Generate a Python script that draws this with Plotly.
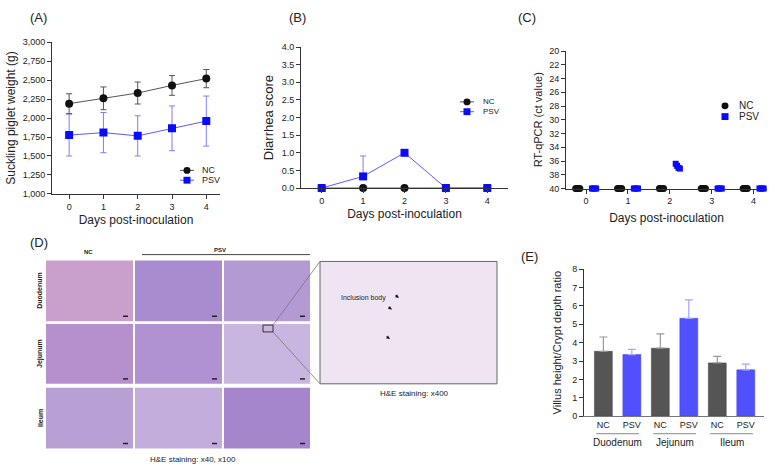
import plotly.graph_objects as go

W, H = 776, 472
FONT = "Liberation Sans, Arial, sans-serif"

days = [0, 1, 2, 3, 4]

# (A) suckling piglet weight, mean and SD (g)
weight_nc = [2190, 2260, 2330, 2430, 2520]
weight_nc_sd = [130, 150, 145, 130, 120]
weight_psv = [1775, 1808, 1765, 1865, 1960]
weight_psv_sd = [275, 265, 265, 295, 330]

# (B) diarrhea score
score_nc = [0, 0, 0, 0, 0]
score_psv = [0, 0.33, 1.0, 0, 0]
score_psv_sd = [0, 0.58, 0, 0, 0]

# (C) RT-qPCR ct value, one value per piglet
ct_day = [0, 0, 0, 0, 1, 1, 1, 1, 2, 2, 2, 2, 3, 3, 3, 3, 4, 4, 4, 4]
ct_nc = [40, 40, 40, 40, 40, 40, 40, 40, 40, 40, 40, 40, 40, 40, 40, 40, 40, 40, 40, 40]
ct_psv = [40, 40, 40, 40, 40, 40, 40, 40, 36.4, 36.7, 37.0, 37.1, 40, 40, 40, 40, 40, 40, 40, 40]

# (E) villus height / crypt depth ratio
villus_labels = ["NC", "PSV", "NC", "PSV", "NC", "PSV"]
villus_segments = ["Duodenum", "Jejunum", "Ileum"]
villus_ratio = [3.53, 3.35, 3.70, 5.33, 2.90, 2.52]
villus_sd = [0.78, 0.29, 0.78, 1.00, 0.35, 0.31]

# (D) histology panel labels
he_rows = ["Duodenum", "Jejunum", "Ileum"]
groups = ["NC", "PSV"]

BLACK = "#111111"
GREY = "#555555"
BLUE = "#0a0aff"
BLUE_LINE = "#5a5aff"
BLUE_BAR = "#5050ff"


def px(x):
    return x / W


def py(y):
    return 1 - y / H


def axis(domain, anchor, **kw):
    base = dict(domain=domain, anchor=anchor, showline=True, linecolor="#333", linewidth=1,
                ticks="outside", ticklen=4, tickcolor="#333", showgrid=False,
                zeroline=False, tickfont=dict(size=9, color="#222"))
    base.update(kw)
    return base


fig = go.Figure()

# ---- (A)
fig.add_trace(go.Scatter(
    x=days, y=weight_nc, name="NC", mode="lines+markers", xaxis="x", yaxis="y",
    line=dict(color=GREY, width=1), marker=dict(symbol="circle", size=8, color=BLACK),
    error_y=dict(type="data", array=weight_nc_sd, color=GREY, thickness=1, width=3)))
fig.add_trace(go.Scatter(
    x=days, y=weight_psv, name="PSV", mode="lines+markers", xaxis="x", yaxis="y",
    line=dict(color=BLUE_LINE, width=1), marker=dict(symbol="square", size=8, color=BLUE),
    error_y=dict(type="data", array=weight_psv_sd, color="#7d7dff", thickness=1, width=3)))

# ---- (B)
fig.add_trace(go.Scatter(
    x=days, y=score_nc, name="NC", mode="lines+markers", xaxis="x2", yaxis="y2",
    line=dict(color=GREY, width=1), marker=dict(symbol="circle", size=8, color=BLACK),
    cliponaxis=False))
fig.add_trace(go.Scatter(
    x=days, y=score_psv, name="PSV", mode="lines+markers", xaxis="x2", yaxis="y2",
    line=dict(color=BLUE_LINE, width=1), marker=dict(symbol="square", size=8, color=BLUE),
    error_y=dict(type="data", array=score_psv_sd, arrayminus=[0] * len(days),
                 symmetric=False, color="#7d7dff", thickness=1, width=3),
    cliponaxis=False))

# ---- (C)
jitter = [-0.05, -0.017, 0.017, 0.05]
nc_x = [d - 0.2 + jitter[i % 4] for i, d in enumerate(ct_day)]
psv_x = [d + 0.19 + jitter[i % 4] for i, d in enumerate(ct_day)]
fig.add_trace(go.Scatter(
    x=nc_x, y=ct_nc, name="NC", mode="markers", xaxis="x3", yaxis="y3",
    marker=dict(symbol="circle", size=7, color=BLACK), cliponaxis=False))
fig.add_trace(go.Scatter(
    x=psv_x, y=ct_psv, name="PSV", mode="markers", xaxis="x3", yaxis="y3",
    marker=dict(symbol="square", size=6, color=BLUE), cliponaxis=False))

# ---- (E)
idx = list(range(len(villus_labels)))
nc_idx = [i for i in idx if villus_labels[i] == "NC"]
psv_idx = [i for i in idx if villus_labels[i] == "PSV"]
fig.add_trace(go.Bar(
    x=nc_idx, y=[villus_ratio[i] for i in nc_idx], xaxis="x4", yaxis="y4", name="NC",
    width=0.63, marker=dict(color=GREY, line=dict(color="#444", width=0.5)),
    error_y=dict(type="data", array=[villus_sd[i] for i in nc_idx], arrayminus=[0] * len(nc_idx),
                 symmetric=False, color="#999", thickness=1.2, width=4)))
fig.add_trace(go.Bar(
    x=psv_idx, y=[villus_ratio[i] for i in psv_idx], xaxis="x4", yaxis="y4", name="PSV",
    width=0.63, marker=dict(color=BLUE_BAR, line=dict(color="#3a3aff", width=0.5)),
    error_y=dict(type="data", array=[villus_sd[i] for i in psv_idx], arrayminus=[0] * len(psv_idx),
                 symmetric=False, color="#a5a5ff", thickness=1.2, width=4)))

title_font = dict(size=12, color="#222")
fig.update_layout(
    width=W, height=H, margin=dict(l=0, r=0, t=0, b=0),
    paper_bgcolor="white", plot_bgcolor="white",
    font=dict(family=FONT, color="#222"),
    barmode="overlay", showlegend=False,
    xaxis=axis([px(52), px(220)], "y", range=[-0.5, 4.4], tickvals=days,
               title=dict(text="Days post-inoculation", font=title_font, standoff=4)),
    yaxis=axis([py(193), py(38)], "x", range=[1000, 3000], dtick=250, tickformat=",",
               title=dict(text="Suckling piglet weight (g)", font=title_font, standoff=4)),
    xaxis2=axis([px(301), px(508)], "y2", range=[-0.5, 4.5], tickvals=days,
                title=dict(text="Days post-inoculation", font=title_font, standoff=4)),
    yaxis2=axis([py(187), py(43)], "x2", range=[0, 4], dtick=0.5, tickformat=".1f",
                title=dict(text="Diarrhea score", font=dict(size=13, color="#222"), standoff=5)),
    xaxis3=axis([px(566), px(767)], "y3", range=[-0.48, 4.32], tickvals=days,
                title=dict(text="Days post-inoculation", font=title_font, standoff=8)),
    yaxis3=axis([py(187.5), py(47)], "x3", range=[40, 20], dtick=2,
                title=dict(text="RT-qPCR (ct value)", font=dict(size=11, color="#222"), standoff=4)),
    xaxis4=axis([px(584), px(764)], "y4", range=[-0.68, 5.64], tickvals=idx,
                ticktext=villus_labels, ticks="", linecolor="#777"),
    yaxis4=axis([py(420), py(270)], "x4", range=[0, 8], dtick=1,
                title=dict(text="Villus height/Crypt depth ratio",
                           font=dict(size=11, color="#222"), standoff=8)),
)

ann = []
shapes = []


def text(x, y, s, size=10, xanchor="center", **kw):
    ann.append(dict(x=px(x), y=py(y), xref="paper", yref="paper", text=s, showarrow=False,
                    xanchor=xanchor, yanchor="middle", font=dict(size=size, color="#222"), **kw))


def legend_entry(cx, cy, symbol, color, label, tx, size=9, line_color=None):
    # compact GraphPad-style key: short line, marker, label
    if line_color:
        shapes.append(dict(type="line", xref="paper", yref="paper", x0=px(cx - 7), x1=px(cx + 7),
                           y0=py(cy), y1=py(cy), line=dict(color=line_color, width=1)))
    r = 3.5
    shapes.append(dict(type="circle" if symbol == "circle" else "rect", xref="paper", yref="paper",
                       x0=px(cx - r), x1=px(cx + r), y0=py(cy + r), y1=py(cy - r),
                       fillcolor=color, line=dict(color=color, width=0)))
    text(tx, cy, label, size=size, xanchor="left")


legend_entry(187, 169, "circle", BLACK, groups[0], 200, line_color=GREY)
legend_entry(187, 179, "square", BLUE, groups[1], 200, line_color=BLUE_LINE)
legend_entry(467, 99, "circle", BLACK, groups[0], 481, size=8, line_color=GREY)
legend_entry(467, 109, "square", BLUE, groups[1], 481, size=8, line_color=BLUE_LINE)
legend_entry(725, 103, "circle", BLACK, groups[0], 737, size=10)
legend_entry(725, 114, "square", BLUE, groups[1], 737, size=10)

for lab, (x, y) in zip(["(A)", "(B)", "(C)", "(D)", "(E)"],
                       [(38, 13), (297, 13), (527, 13), (39, 243), (529, 257)]):
    text(x, y, lab, size=13)

# (E) segment labels with underlines
for k, seg in enumerate(villus_segments):
    i0, i1 = 2 * k, 2 * k + 1
    ann.append(dict(x=(i0 + i1) / 2, y=py(447), xref="x4", yref="paper", text=seg,
                    showarrow=False, yanchor="middle", font=dict(size=10, color="#222")))
    shapes.append(dict(type="line", xref="x4", yref="paper", x0=i0 - 0.25, x1=i1 + 0.25,
                       y0=py(438), y1=py(438), line=dict(color="#888", width=1)))

# (D) histology: image placeholders laid out as in the figure
cols_px = [(46, 133), (135, 222), (224, 310)]
rows_px = [(261, 323), (326, 387), (391, 453)]
fills = [["#c9a0cc", "#a98bd0", "#b49ad2"],
         ["#b590cc", "#b092d2", "#c8b6e0"],
         ["#b9a0d4", "#c2addc", "#a585cc"]]
for r, (y0, y1) in enumerate(rows_px):
    for c, (x0, x1) in enumerate(cols_px):
        shapes.append(dict(type="rect", xref="paper", yref="paper", x0=px(x0), x1=px(x1),
                           y0=py(y1), y1=py(y0), fillcolor=fills[r][c], line=dict(width=0),
                           layer="below"))
        # scale bar
        shapes.append(dict(type="line", xref="paper", yref="paper", x0=px(x1 - 10), x1=px(x1 - 5),
                           y0=py(y1 - 5), y1=py(y1 - 5), line=dict(color="#222", width=1.5)))
    text(40, (y0 + y1) / 2, "<b>" + he_rows[r] + "</b>", size=7, textangle=-90)

text(88, 252, "<b>" + groups[0] + "</b>", size=6)
text(220, 250, "<b>" + groups[1] + "</b>", size=6)
shapes.append(dict(type="line", xref="paper", yref="paper", x0=px(142), x1=px(310),
                   y0=py(255), y1=py(255), line=dict(color="#444", width=1)))
text(193, 464, "H&E staining: x40, x100", size=8)

# zoomed inset
shapes.append(dict(type="rect", xref="paper", yref="paper", x0=px(320), x1=px(497),
                   y0=py(387), y1=py(262), fillcolor="#efe4f2", line=dict(color="#666", width=1)))
shapes.append(dict(type="rect", xref="paper", yref="paper", x0=px(263), x1=px(273),
                   y0=py(334), y1=py(327), line=dict(color="#333", width=1)))
shapes.append(dict(type="line", xref="paper", yref="paper", x0=px(273), x1=px(320),
                   y0=py(327), y1=py(262), line=dict(color="#777", width=0.8)))
shapes.append(dict(type="line", xref="paper", yref="paper", x0=px(273), x1=px(320),
                   y0=py(334), y1=py(387), line=dict(color="#777", width=0.8)))
text(363, 299, "Inclusion body", size=7)
text(414, 397, "H&E staining: x400", size=8)

# arrows pointing at inclusion bodies
for ax_, ay_ in [(396, 297), (389, 309), (387, 339)]:
    ann.append(dict(x=px(ax_ + 3), y=py(ay_ + 2), xref="paper", yref="paper", text="",
                    showarrow=True, ax=-5, ay=-3, arrowhead=2, arrowsize=0.7,
                    arrowwidth=1, arrowcolor="#111"))

fig.update_layout(annotations=ann, shapes=shapes)

fig.write_html("out.html", config={"displayModeBar": False},
               post_script="document.body.style.margin = '0';")
